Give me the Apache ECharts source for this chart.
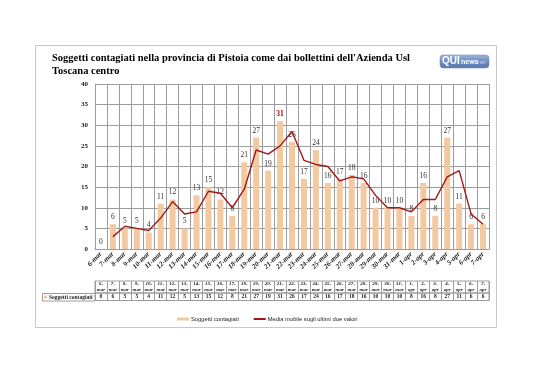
<!DOCTYPE html>
<html><head><meta charset="utf-8">
<script src="https://cdn.jsdelivr.net/npm/echarts@6/dist/echarts.min.js"></script>
<style>html,body{margin:0;padding:0;background:#fff}#c{width:538px;height:380px}</style>
</head><body><div id="c"></div>
<script>
const categories = ['6-mar','7-mar','8-mar','9-mar','10-mar','11-mar','12-mar','13-mar','14-mar','15-mar','16-mar','17-mar','18-mar','19-mar','20-mar','21-mar','22-mar','23-mar','24-mar','25-mar','26-mar','27-mar','28-mar','29-mar','30-mar','31-mar','1-apr','2-apr','3-apr','4-apr','5-apr','6-apr','7-apr'];
const cases = [0,6,5,5,4,11,12,5,13,15,12,8,21,27,19,31,26,17,24,16,17,18,16,10,10,10,8,16,8,27,11,6,6];
const movingAvg = [null,3,5.5,5,4.5,7.5,11.5,8.5,9,14,13.5,10,14.5,24,23,25,28.5,21.5,20.5,20,16.5,17.5,17,13,10,10,9,12,12,17.5,19,8.5,6];
const yTicks = [0,5,10,15,20,25,30,35,40];
const seriesNames = ['Soggetti contagiati','Media mobile sugli ultimi due valori'];

const serif = '"Liberation Serif","DejaVu Serif",serif';
const sans = '"Liberation Sans","DejaVu Sans",sans-serif';
const maxVal = Math.max(...cases);
const barColor = '#F2C9A1';
const lineColor = '#A01818';
const gridColor = '#9c9c9c';

const chart = echarts.init(document.getElementById('c'), null, {renderer:'canvas'});
const L = 95, R = 49;
chart.setOption({
  animation:false,
  backgroundColor:'#fff',
  title:{text:"Soggetti contagiati nella provincia di Pistoia come dai bollettini dell'Azienda Usl\nToscana centro",
    left:47, top:47,
    textStyle:{fontFamily:serif, fontWeight:'bold', fontSize:10.5, color:'#000', lineHeight:13}},
  legend:{left:172, top:311, itemWidth:12, itemHeight:3, itemGap:14,
    textStyle:{fontFamily:sans, fontSize:5.8, color:'#222', padding:[0,0,0,-3]},
    data:[{name:seriesNames[0], icon:'rect'},{name:seriesNames[1], itemStyle:{opacity:0}}]},
  grid:[
    {left:L, right:R, top:84, height:165},
    {left:L, right:R, top:281, height:12, show:true, borderColor:gridColor, borderWidth:1},
    {left:L, right:R, top:293, height:7.5, show:true, borderColor:gridColor, borderWidth:1}
  ],
  xAxis:[
    {type:'category', data:categories, gridIndex:0, boundaryGap:true,
     axisLine:{lineStyle:{color:gridColor}}, axisTick:{show:false},
     splitLine:{show:true, lineStyle:{color:gridColor, width:1}},
     axisLabel:{interval:0, rotate:45, margin:4, fontFamily:serif, fontStyle:'italic', fontWeight:'bold', fontSize:7, color:'#222'}},
    {type:'category', data:categories, gridIndex:1, boundaryGap:true,
     axisLine:{show:false}, axisTick:{show:false},
     splitLine:{show:true, lineStyle:{color:gridColor, width:1}},
     axisLabel:{interval:0, margin:-12, fontFamily:serif, fontStyle:'italic', fontWeight:'bold', fontSize:5, lineHeight:5.5, color:'#222',
       formatter:(v)=>v.replace('-', '-\n')}},
    {type:'category', data:categories, gridIndex:2, boundaryGap:true,
     axisLine:{show:false}, axisTick:{show:false},
     splitLine:{show:true, lineStyle:{color:gridColor, width:1}},
     axisLabel:{interval:0, margin:-7, fontFamily:serif, fontWeight:'bold', fontSize:5.5, color:'#222',
       formatter:(v,i)=>String(cases[i])}}
  ],
  yAxis:[
    {type:'value', gridIndex:0, min:yTicks[0], max:yTicks[yTicks.length-1], interval:5,
     axisLine:{show:true, lineStyle:{color:gridColor}}, axisTick:{show:false},
     splitLine:{lineStyle:{color:gridColor, width:1}},
     axisLabel:{margin:7, fontFamily:serif, fontWeight:'bold', fontSize:7, color:'#222'}},
    {type:'value', gridIndex:1, show:false},
    {type:'value', gridIndex:2, show:false}
  ],
  series:[
    {name:seriesNames[0], type:'bar', xAxisIndex:0, yAxisIndex:0, barWidth:6,
     itemStyle:{color:barColor},
     label:{show:true, position:'top', distance:3, fontFamily:serif, fontSize:7.5, color:'#333'},
     data:cases.map(v => v===maxVal ? {value:v, label:{color:'#C00000', fontWeight:'bold'}} : v)},
    {name:seriesNames[1], type:'line', xAxisIndex:0, yAxisIndex:0, symbol:'none',
     lineStyle:{color:lineColor, width:1.4}, itemStyle:{color:lineColor}, z:5,
     data:movingAvg}
  ],
  graphic:[
    {type:'rect', shape:{x:35.5, y:45.5, width:461, height:282}, style:{fill:'none', stroke:'#c8c8c8', lineWidth:1}, z:-1, silent:true},
    {type:'rect', shape:{x:42.5, y:293.5, width:52.5, height:7.5}, style:{fill:'#fff', stroke:gridColor, lineWidth:1}},
    {type:'rect', shape:{x:44, y:295.5, width:3, height:3}, style:{fill:barColor}},
    {type:'text', x:49, y:297.5, style:{text:seriesNames[0], font:'bold 5.5px '+serif, fill:'#222', verticalAlign:'middle'}},
    {type:'group', x:440, y:55, children:[
      {type:'rect', shape:{x:0, y:0, width:49, height:13, r:3},
       style:{fill:new echarts.graphic.LinearGradient(0,0,0,1,[{offset:0,color:'#9fb6d8'},{offset:0.5,color:'#6a8cc0'},{offset:1,color:'#5677ad'}]), stroke:'#7f95b8', lineWidth:0.6}},
      {type:'text', x:2, y:6.7, style:{text:'QUI', font:'bold 10px '+sans, fill:'#fff', verticalAlign:'middle'}},
      {type:'text', x:21, y:7.3, style:{text:'news', font:'bold 7px '+sans, fill:'#fff', verticalAlign:'middle'}},
      {type:'text', x:38, y:7.8, style:{text:'net', font:'italic 5.5px '+sans, fill:'#c7d4ea', verticalAlign:'middle'}}
    ]}
  ]
});
</script></body></html>
